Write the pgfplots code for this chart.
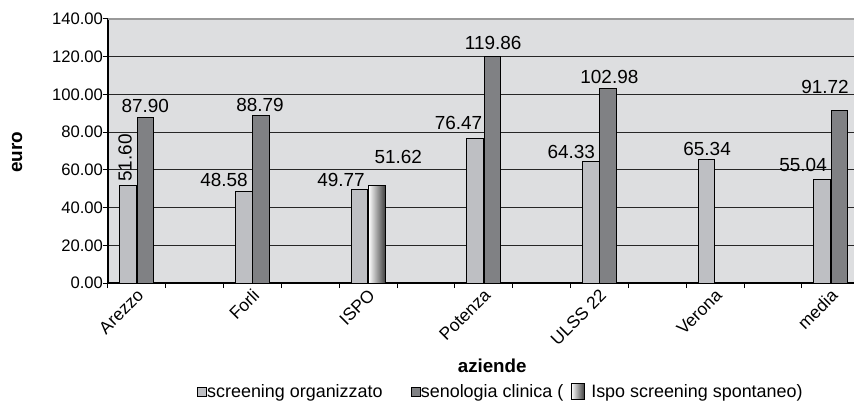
\documentclass[border=0pt]{standalone}
\usepackage{fontspec}
\setmainfont{Liberation Sans}
\setsansfont{Liberation Sans}
\usepackage{pgfplots}
\pgfplotsset{compat=1.18}
\definecolor{bgc}{HTML}{DDDEE0}
\definecolor{lightbar}{HTML}{BEBFC3}
\definecolor{darkbar}{HTML}{808184}
\begin{document}
\begin{tikzpicture}
\begin{axis}[
  at={(0,0)}, anchor=south west,
  scale only axis,
  width=746bp, height=264bp,
  xmin=0, xmax=12.9,
  ymin=0, ymax=140,
  axis x line*=bottom, axis y line*=left,
  axis line style={black, line width=1.2bp, -},
  axis background/.style={fill=bgc},
  ytick={0,20,...,140},
  ymajorgrids,
  grid style={black!85, line width=1.1bp},
  xtick={0.5,2.5,4.5,6.5,8.5,10.5,12.5},
  xticklabels={Arezzo,Forli,ISPO,Potenza,ULSS 22,Verona,media},
  minor xtick={0,1,...,12},
  tick align=outside,
  major tick length=5bp,
  minor tick length=5bp,
  tick style={black, line width=1bp},
  major x tick style={draw=none},
  minor x tick style={black, line width=1bp},
  xticklabel style={xshift=6bp, yshift=-2bp, rotate=45, anchor=east, font=\fontsize{17.5}{19}\selectfont},
  /pgf/number format/assume math mode=true,
  yticklabel style={/pgf/number format/fixed, /pgf/number format/fixed zerofill, /pgf/number format/precision=2, font=\fontsize{16.7}{18}\selectfont, xshift=3.5bp},
  ylabel={\textbf{euro}},
  ylabel style={at={(rel axis cs:0,0.496)}, yshift=91bp, anchor=center, font=\fontsize{19}{21}\selectfont},
  xlabel={\textbf{aziende}},
  xlabel style={at={(rel axis cs:0.515,0)}, yshift=-83bp, anchor=center, font=\fontsize{18.8}{21}\selectfont},
  ybar, bar width=0.29, bar shift=0pt,
  legend columns=3,
  legend cell align=left,
  legend style={at={(rel axis cs:0.119,-0.413)}, anchor=west, draw=none, fill=none,
     font=\fontsize{18}{20}\selectfont, inner sep=0pt,
     /tikz/every node/.append style={inner xsep=0.5bp}},
]
\addplot[draw=black, line width=1bp, fill=lightbar,
  legend image code/.code={\draw[black, line width=0.7bp, fill=lightbar] (0bp,-4bp) rectangle (9bp,5bp);}]
  coordinates {(0.35,51.60) (2.35,48.58) (4.35,49.77) (6.35,76.47) (8.35,64.33) (10.35,65.34) (12.35,55.04)};
\addlegendentry{\makebox[203bp][l]{screening organizzato}}
\addplot[draw=black, line width=1bp, fill=darkbar,
  legend image code/.code={\draw[black, line width=0.7bp, fill=darkbar] (0bp,-4bp) rectangle (9bp,5bp);}]
  coordinates {(0.65,87.90) (2.65,88.79) (6.65,119.86) (8.65,102.98) (12.65,91.72)};
\addlegendentry{\makebox[149.5bp][l]{senologia clinica (}}
\addplot[draw=black, line width=1bp, left color=white, middle color=white, right color=black!75,
  legend image code/.code={\shade[draw=black, line width=0.9bp, left color=white, middle color=white, right color=black!75] (0bp,-7bp) rectangle (13bp,9bp);}]
  coordinates {(4.65,51.62)};
\addlegendentry{\hspace{6bp}Ispo screening spontaneo)}
\draw[black!40, line width=1.3bp] (rel axis cs:0,1) -- (rel axis cs:1,1);
\begin{scope}[every node/.style={font=\fontsize{19}{21}\selectfont, inner sep=0pt}]
\node[rotate=90] at (axis cs:0.294,66.3) {51.60};
\node at (axis cs:0.645,93.8) {87.90};
\node at (axis cs:2.007,54.6) {48.58};
\node at (axis cs:2.63,94.3) {88.79};
\node at (axis cs:4.03,54.6) {49.77};
\node at (axis cs:5.02,66.8) {51.62};
\node at (axis cs:6.06,84.8) {76.47};
\node at (axis cs:6.66,127.3) {119.86};
\node at (axis cs:8.01,69.5) {64.33};
\node at (axis cs:8.67,109.2) {102.98};
\node at (axis cs:10.36,71.0) {65.34};
\node at (axis cs:12.02,62.6) {55.04};
\node at (axis cs:12.40,103.9) {91.72};
\end{scope}
\end{axis}
\pgfresetboundingbox
\path[use as bounding box] (-108bp,-120bp) rectangle (746bp,283bp);
\end{tikzpicture}
\end{document}
